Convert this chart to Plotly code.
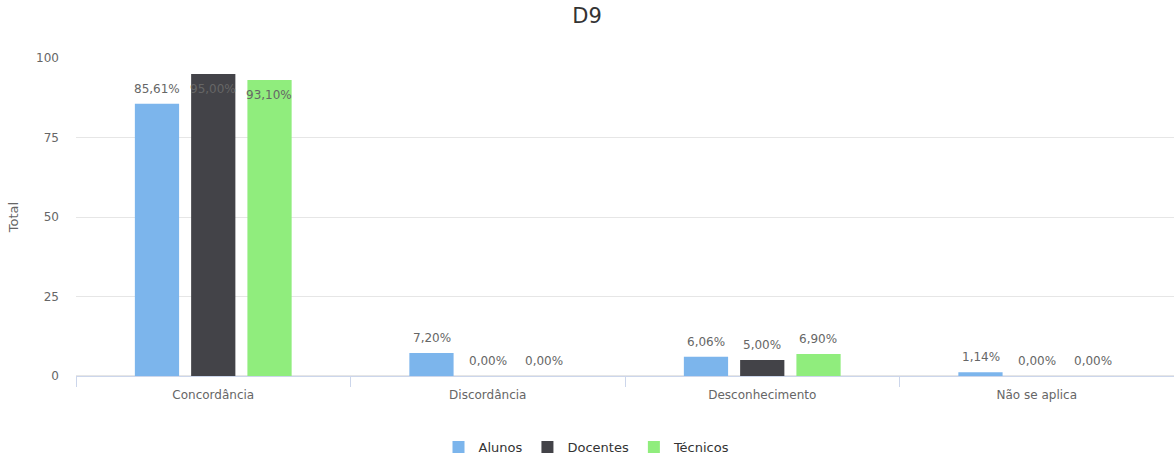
import plotly.graph_objects as go

# Response categories and share (%) per group
categories = ["Concordância", "Discordância", "Desconhecimento", "Não se aplica"]
alunos = [85.61, 7.20, 6.06, 1.14]
docentes = [95.00, 0.00, 5.00, 0.00]
tecnicos = [93.10, 0.00, 6.90, 0.00]

series = [
    ("Alunos", alunos, "#7cb5ec"),
    ("Docentes", docentes, "#434348"),
    ("Técnicos", tecnicos, "#90ed7d"),
]

FONT = "DejaVu Sans"
SLOT_PX = 56  # horizontal distance between bar centres within a group


def fmt(v):
    return f"{v:.2f}%".replace(".", ",")


fig = go.Figure()
annotations = []
for i, (name, vals, color) in enumerate(series):
    fig.add_trace(go.Bar(
        name=name,
        x=categories,
        y=vals,
        marker=dict(color=color, line=dict(width=0)),
        hovertemplate="%{x}<br>" + name + ": %{y:.2f}%<extra></extra>",
    ))
    # value labels above each bar; near the top of the plot they sit inside the bar
    for cat, v in zip(categories, vals):
        annotations.append(dict(
            x=cat,
            y=v,
            xref="x",
            yref="y",
            xshift=(i - 1) * SLOT_PX,
            yshift=-15 if v > 90 else 15,
            yanchor="middle",
            text=fmt(v),
            showarrow=False,
            font=dict(family=FONT, size=12, color="#666666"),
        ))

fig.update_layout(
    width=1174,
    height=457,
    margin=dict(l=76, r=0, t=58, b=81, autoexpand=False),
    paper_bgcolor="white",
    plot_bgcolor="white",
    barmode="group",
    bargap=0.385,
    bargroupgap=0.214,
    annotations=annotations,
    font=dict(family=FONT, size=11, color="#666666"),
    title=dict(
        text="D9",
        x=0.5,
        xanchor="center",
        y=0.965,
        yanchor="middle",
        font=dict(family=FONT, size=21, color="#333333"),
    ),
    xaxis=dict(
        showline=True,
        linecolor="#ccd6eb",
        linewidth=1,
        ticks="outside",
        tickson="boundaries",
        ticklen=10,
        tickcolor="#ccd6eb",
        showgrid=False,
        ticklabelstandoff=8,
        tickfont=dict(family=FONT, size=12, color="#666666"),
    ),
    yaxis=dict(
        range=[0, 100],
        tickvals=[0, 25, 50, 75, 100],
        showgrid=True,
        gridcolor="#e6e6e6",
        zeroline=True,
        zerolinecolor="#e6e6e6",
        showline=False,
        ticks="",
        ticklabelstandoff=16,
        tickfont=dict(family=FONT, size=12, color="#666666"),
        title=dict(text="Total", font=dict(family=FONT, size=13, color="#666666"), standoff=14),
    ),
    legend=dict(
        orientation="h",
        xref="container",
        x=0.5,
        xanchor="center",
        yref="container",
        y=0.022,
        yanchor="middle",
        font=dict(family=FONT, size=13, color="#333333"),
        itemsizing="constant",
        tracegroupgap=0,
    ),
)

fig.write_html("out.html")
